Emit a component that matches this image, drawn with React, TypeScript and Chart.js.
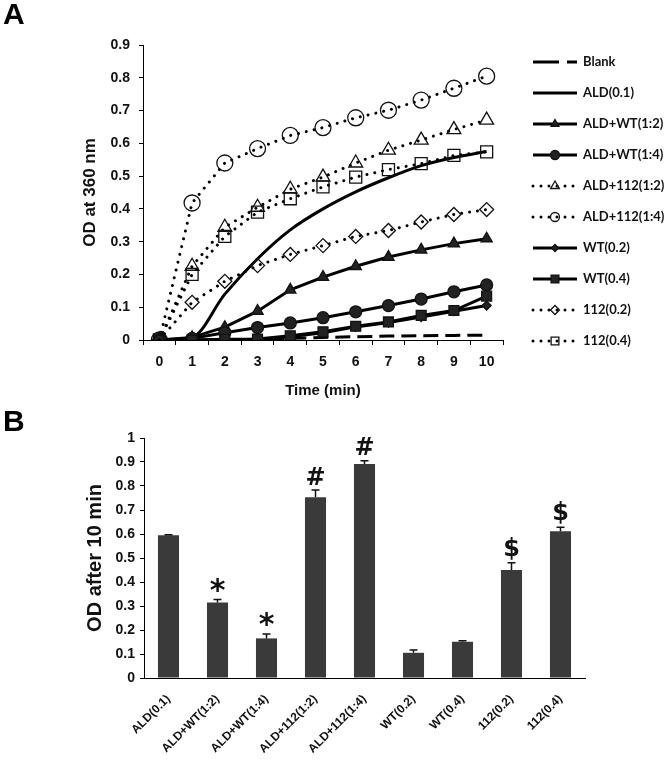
import React, { useEffect, useRef } from 'react';
import { Chart, registerables } from 'chart.js';

Chart.register(...registerables);

const FONT = "'Liberation Sans', Arial, sans-serif";
const LEGEND_FONT = "Lato, 'Liberation Sans', sans-serif";

// ---------- Panel A data ----------
const timeLabels = ['0', '1', '2', '3', '4', '5', '6', '7', '8', '9', '10'];
const seriesNames = [
  'Blank', 'ALD(0.1)', 'ALD+WT(1:2)', 'ALD+WT(1:4)', 'ALD+112(1:2)',
  'ALD+112(1:4)', 'WT(0.2)', 'WT(0.4)', '112(0.2)', '112(0.4)',
];
const blankOD = [0, 0, 0, 0.002, 0.005, 0.008, 0.01, 0.012, 0.013, 0.014, 0.015];
const ald01OD = [0, 0.008, 0.14, 0.248, 0.336, 0.4, 0.452, 0.495, 0.532, 0.557, 0.575];
const aldWt12OD = [0, 0.008, 0.039, 0.088, 0.153, 0.192, 0.225, 0.253, 0.275, 0.294, 0.309];
const aldWt14OD = [0, 0.005, 0.022, 0.038, 0.052, 0.068, 0.086, 0.105, 0.125, 0.147, 0.168];
const ald112_12OD = [0, 0.225, 0.344, 0.405, 0.46, 0.497, 0.54, 0.579, 0.61, 0.642, 0.671];
const ald112_14OD = [0, 0.418, 0.54, 0.584, 0.624, 0.648, 0.678, 0.701, 0.732, 0.768, 0.805];
const wt02OD = [0, 0, 0, 0, 0.01, 0.022, 0.04, 0.053, 0.07, 0.088, 0.105];
const wt04OD = [0, 0, 0.002, 0.003, 0.013, 0.025, 0.042, 0.055, 0.075, 0.09, 0.134];
const m112_02OD = [0, 0.115, 0.179, 0.227, 0.261, 0.288, 0.316, 0.334, 0.36, 0.383, 0.398];
const m112_04OD = [0, 0.2, 0.316, 0.39, 0.431, 0.467, 0.497, 0.52, 0.538, 0.563, 0.574];
const seriesValues = [
  blankOD, ald01OD, aldWt12OD, aldWt14OD, ald112_12OD,
  ald112_14OD, wt02OD, wt04OD, m112_02OD, m112_04OD,
];
const yTicksA = { min: 0, max: 0.9, step: 0.1 };

// ---------- Panel B data ----------
const barCategories = [
  'ALD(0.1)', 'ALD+WT(1:2)', 'ALD+WT(1:4)', 'ALD+112(1:2)', 'ALD+112(1:4)',
  'WT(0.2)', 'WT(0.4)', '112(0.2)', '112(0.4)',
];
const barValues = [0.595, 0.315, 0.165, 0.753, 0.892, 0.105, 0.151, 0.45, 0.611];
const barErrors = [0.002, 0.012, 0.018, 0.03, 0.013, 0.012, 0.004, 0.03, 0.017];
const barMarks = ['', '*', '*', '#', '#', '', '', '$', '$'];
const yTicksB = { min: 0, max: 1, step: 0.1 };

// ---------- styles ----------
type Shape = 'circle' | 'triangle' | 'rect' | 'rectRot';
type SeriesStyle = { kind: 'dash' | 'solid' | 'dot'; point?: Shape; filled?: boolean; r?: number; lr?: number; smooth?: boolean };
const seriesStyles: SeriesStyle[] = [
  { kind: 'dash' },
  { kind: 'solid', smooth: true },
  { kind: 'solid', point: 'triangle', filled: true, r: 6.5, lr: 4.5 },
  { kind: 'solid', point: 'circle', filled: true, r: 6, lr: 4.5 },
  { kind: 'dot', point: 'triangle', filled: false, r: 8, lr: 5 },
  { kind: 'dot', point: 'circle', filled: false, r: 8, lr: 4.5 },
  { kind: 'solid', point: 'rectRot', filled: true, r: 4.5, lr: 3.5 },
  { kind: 'solid', point: 'rect', filled: true, r: 7, lr: 5.5 },
  { kind: 'dot', point: 'rectRot', filled: false, r: 7, lr: 4.5 },
  { kind: 'dot', point: 'rect', filled: false, r: 8.5, lr: 5.5 },
];
const dashFor = (k: string) => (k === 'dash' ? [15, 7] : k === 'dot' ? [0.001, 8] : []);
const fmtTick = (v: any) => String(Math.round(Number(v) * 10) / 10);

function drawShape(ctx: CanvasRenderingContext2D, shape: Shape, x: number, y: number, r: number, filled: boolean) {
  ctx.save();
  ctx.setLineDash([]);
  ctx.beginPath();
  if (shape === 'circle') {
    ctx.arc(x, y, r, 0, Math.PI * 2);
  } else if (shape === 'triangle') {
    let a = 0;
    ctx.moveTo(x + Math.sin(a) * r, y - Math.cos(a) * r);
    a += (2 * Math.PI) / 3;
    ctx.lineTo(x + Math.sin(a) * r, y - Math.cos(a) * r);
    a += (2 * Math.PI) / 3;
    ctx.lineTo(x + Math.sin(a) * r, y - Math.cos(a) * r);
    ctx.closePath();
  } else if (shape === 'rect') {
    const s = r * Math.SQRT1_2;
    ctx.rect(x - s, y - s, 2 * s, 2 * s);
  } else {
    ctx.moveTo(x - r, y);
    ctx.lineTo(x, y - r);
    ctx.lineTo(x + r, y);
    ctx.lineTo(x, y + r);
    ctx.closePath();
  }
  ctx.lineWidth = 1.3;
  ctx.strokeStyle = '#111';
  if (filled) {
    ctx.fillStyle = '#222';
    ctx.fill();
  }
  ctx.stroke();
  ctx.restore();
}

const sideLegend = {
  id: 'sideLegend',
  afterDraw(chart: any) {
    const ctx: CanvasRenderingContext2D = chart.ctx;
    const x0 = 533, x1 = 577, xm = 555, tx = 583, yTop = 62, step = 31;
    seriesNames.forEach((name, i) => {
      const st = seriesStyles[i];
      const y = yTop + i * step;
      ctx.save();
      ctx.strokeStyle = '#000';
      ctx.lineWidth = 3;
      ctx.lineCap = st.kind === 'dot' ? 'round' : 'butt';
      ctx.setLineDash(st.kind === 'dash' ? [26, 8] : dashFor(st.kind));
      ctx.beginPath();
      ctx.moveTo(x0, y);
      ctx.lineTo(x1, y);
      ctx.stroke();
      ctx.restore();
      if (st.point) drawShape(ctx, st.point, xm, y, st.lr || 4, !!st.filled);
      ctx.save();
      ctx.fillStyle = '#111';
      ctx.font = `bold 13px ${LEGEND_FONT}`;
      ctx.textAlign = 'left';
      ctx.textBaseline = 'middle';
      ctx.fillText(name, tx, y);
      ctx.restore();
    });
  },
};

const errorBars = {
  id: 'errorBars',
  afterDatasetsDraw(chart: any) {
    const ctx: CanvasRenderingContext2D = chart.ctx;
    const yScale = chart.scales.y;
    const meta = chart.getDatasetMeta(0);
    meta.data.forEach((bar: any, i: number) => {
      const top = yScale.getPixelForValue(barValues[i] + barErrors[i]);
      ctx.save();
      ctx.strokeStyle = '#111';
      ctx.lineWidth = 1.5;
      ctx.beginPath();
      ctx.moveTo(bar.x, bar.y);
      ctx.lineTo(bar.x, top);
      ctx.moveTo(bar.x - 4, top);
      ctx.lineTo(bar.x + 4, top);
      ctx.stroke();
      const mark = barMarks[i];
      if (mark) {
        ctx.fillStyle = '#111';
        ctx.font = mark === '*' ? `bold 30px 'DejaVu Sans', sans-serif` : `bold 24px 'DejaVu Sans', sans-serif`;
        ctx.textAlign = 'center';
        ctx.textBaseline = 'alphabetic';
        const m = ctx.measureText(mark);
        const cy = top - 14.5;
        const by = cy + (m.actualBoundingBoxAscent - m.actualBoundingBoxDescent) / 2;
        ctx.fillText(mark, bar.x, by);
      }
      ctx.restore();
    });
  },
};

export default function App() {
  const refA = useRef<HTMLCanvasElement>(null);
  const refB = useRef<HTMLCanvasElement>(null);

  useEffect(() => {
    const tickFontA = { family: FONT, size: 14, weight: 'bold' as const };
    const datasets = seriesValues.map((vals, i) => {
      const st = seriesStyles[i];
      return {
        label: seriesNames[i],
        data: vals,
        borderColor: '#000',
        borderWidth: 3,
        borderDash: dashFor(st.kind),
        borderCapStyle: st.kind === 'dot' ? 'round' : 'butt',
        cubicInterpolationMode: st.smooth ? 'monotone' : 'default',
        tension: 0,
        fill: false,
        order: 20 - i,
        pointStyle: st.point || 'circle',
        pointRadius: st.point ? st.r : 0,
        pointHoverRadius: st.point ? st.r : 0,
        pointBackgroundColor: st.filled ? '#222' : 'rgba(255,255,255,0)',
        pointBorderColor: '#111',
        pointBorderWidth: 1.3,
      };
    });

    const chartA = new Chart(refA.current!, {
      type: 'line',
      data: { labels: timeLabels, datasets: datasets as any },
      options: {
        responsive: false,
        animation: false,
        devicePixelRatio: 1,
        layout: { padding: { left: 0, top: 45, right: 167, bottom: 0 } },
        plugins: { legend: { display: false }, tooltip: { enabled: false } },
        scales: {
          x: {
            type: 'category',
            offset: true,
            grid: { offset: true, drawOnChartArea: false, drawTicks: true, tickLength: 5, color: '#000', lineWidth: 1 },
            border: { display: true, color: '#000', width: 1 },
            ticks: { font: tickFontA, color: '#111', padding: 9, maxRotation: 0, autoSkip: false },
            title: { display: true, text: 'Time (min)', font: { family: FONT, size: 15, weight: 'bold' }, color: '#111', padding: { top: 0, bottom: 0 } },
            afterFit: (s: any) => { s.height = 60; s.paddingLeft = 0; s.paddingRight = 0; },
          },
          y: {
            min: yTicksA.min,
            max: yTicksA.max,
            grid: { drawOnChartArea: false, drawTicks: true, tickLength: 4, color: '#000', lineWidth: 1 },
            border: { display: true, color: '#000', width: 1 },
            ticks: { stepSize: yTicksA.step, font: tickFontA, color: '#111', padding: 9, callback: fmtTick },
            title: { display: true, text: 'OD at 360 nm', font: { family: FONT, size: 17, weight: 'bold' }, color: '#111', padding: { top: 80, bottom: 0 } },
            afterFit: (s: any) => { s.width = 143; s.paddingTop = 0; s.paddingBottom = 0; },
          },
        },
      } as any,
      plugins: [sideLegend],
    });

    const chartB = new Chart(refB.current!, {
      type: 'bar',
      data: {
        labels: barCategories,
        datasets: [{
          label: 'OD after 10 min',
          data: barValues,
          backgroundColor: '#3a3a3a',
          borderWidth: 0,
          barPercentage: 0.43,
          categoryPercentage: 1,
        }],
      },
      options: {
        responsive: false,
        animation: false,
        devicePixelRatio: 1,
        layout: { padding: { left: 0, top: 38, right: 85, bottom: 0 } },
        plugins: { legend: { display: false }, tooltip: { enabled: false } },
        scales: {
          x: {
            grid: { display: true, drawOnChartArea: false, drawTicks: false },
            border: { display: true, color: '#000', width: 1 },
            ticks: { font: { family: FONT, size: 12, weight: 'bold' }, color: '#111', padding: 14, minRotation: 45, maxRotation: 45, autoSkip: false },
            afterFit: (s: any) => { s.height = 89; s.paddingLeft = 0; s.paddingRight = 0; },
          },
          y: {
            min: yTicksB.min,
            max: yTicksB.max,
            grid: { drawOnChartArea: false, drawTicks: true, tickLength: 4, color: '#000', lineWidth: 1 },
            border: { display: true, color: '#000', width: 1 },
            ticks: { stepSize: yTicksB.step, font: { family: FONT, size: 14, weight: 'bold' }, color: '#111', padding: 5, callback: fmtTick },
            title: { display: true, text: 'OD after 10 min', font: { family: FONT, size: 20, weight: 'bold' }, color: '#111', padding: { top: 83, bottom: 0 } },
            afterFit: (s: any) => { s.width = 144; s.paddingTop = 0; s.paddingBottom = 0; },
          },
        },
      } as any,
      plugins: [errorBars],
    });

    return () => {
      chartA.destroy();
      chartB.destroy();
    };
  }, []);

  return (
    <div style={{ position: 'absolute', left: 0, top: 0, width: 670, height: 767, background: '#fff', overflow: 'hidden' }}>
      <canvas ref={refA} width={670} height={400} style={{ position: 'absolute', left: 0, top: 0, width: 670, height: 400 }} />
      <canvas ref={refB} width={670} height={367} style={{ position: 'absolute', left: 0, top: 400, width: 670, height: 367 }} />
      <div style={{ position: 'absolute', left: 3, top: -1, font: `bold 30px/30px ${FONT}`, color: '#000' }}>A</div>
      <div style={{ position: 'absolute', left: 3, top: 406, font: `bold 30px/30px ${FONT}`, color: '#000' }}>B</div>
    </div>
  );
}
